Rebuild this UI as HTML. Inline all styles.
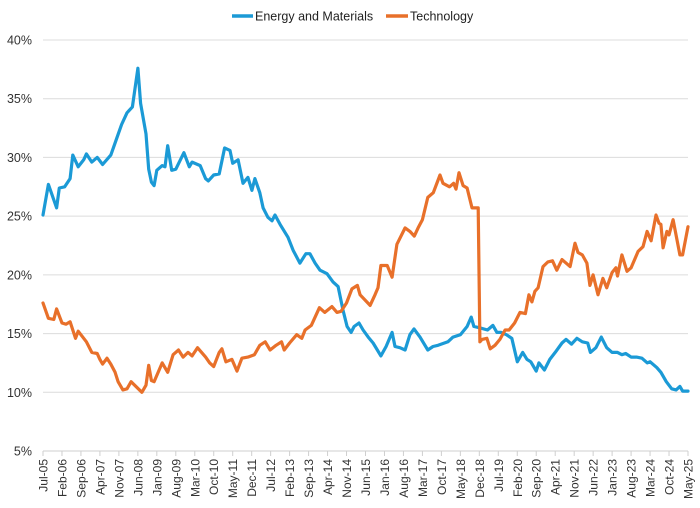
<!DOCTYPE html>
<html><head><meta charset="utf-8"><style>
html,body{margin:0;padding:0;background:#fff;}
svg{display:block;font-family:"Liberation Sans",sans-serif;}
</style></head><body>
<svg id="chart" width="700" height="508" viewBox="0 0 700 508" xmlns="http://www.w3.org/2000/svg">
<g>
  <line x1="232" y1="16" x2="253" y2="16" stroke="#1b9ad6" stroke-width="3.5"/>
  <text x="255" y="20.5" font-size="12.5" fill="#222">Energy and Materials</text>
  <line x1="386" y1="16" x2="408" y2="16" stroke="#e8702a" stroke-width="3.5"/>
  <text x="410" y="20.5" font-size="12.5" fill="#222">Technology</text>
</g>
<g id="grid"></g>
<g id="yaxis"></g>
<g id="xaxis"></g>
<g id="series"></g>
</svg>
<script>
const yTicks = [5,10,15,20,25,30,35,40];
const xTickLabels = ["Jul-05","Feb-06","Sep-06","Apr-07","Nov-07","Jun-08","Jan-09","Aug-09","Mar-10","Oct-10","May-11","Dec-11","Jul-12","Feb-13","Sep-13","Apr-14","Nov-14","Jun-15","Jan-16","Aug-16","Mar-17","Oct-17","May-18","Dec-18","Jul-19","Feb-20","Sep-20","Apr-21","Nov-21","Jun-22","Jan-23","Aug-23","Mar-24","Oct-24","May-25"];
const energyMonths = [0,2,5,6,8,10,11,13,15,16,18,20,22,25,27,29,31,33,35,36,38,39,40,41,42,44,45,46,47.5,49,52,54,55,58,60,61,63,65,67,69,70,72,73.8,75.6,77.1,78.2,80,81.2,83,84.5,85.6,87.5,90.4,92.3,94.8,97,98.5,100.4,102.2,104.8,107,108.9,110.7,112.2,113.7,114.8,116.6,118.1,120,121.8,124.7,126.6,128.8,129.9,131.7,133.6,135.4,136.9,139.1,142,143.9,145.8,149.4,151.3,154,156.5,158,159,161,164,166,167.5,169,171,173,175,177,178.6,180,182,183,185,187,189,191.5,193,195,197,199,201,202,204,206,208,210,212,213.6,215,217,219,221,223,224,226.5,228,230,232,233.6,235,236,238];
const energyValues = [25.1,27.7,25.7,27.4,27.5,28.2,30.2,29.2,29.8,30.3,29.6,30.0,29.4,30.2,31.5,32.8,33.8,34.3,37.6,34.6,32.0,29.0,27.9,27.6,28.9,29.3,29.2,31.0,28.9,29.0,30.4,29.2,29.6,29.3,28.2,28.0,28.5,28.6,30.8,30.6,29.5,29.8,27.8,28.3,27.2,28.2,27.0,25.7,24.9,24.6,25.1,24.3,23.2,22.1,21.0,21.8,21.8,21.0,20.4,20.1,19.4,19.0,17.0,15.6,15.1,15.6,15.9,15.3,14.7,14.2,13.1,13.9,15.1,13.9,13.8,13.6,14.9,15.4,14.7,13.6,13.9,14.0,14.3,14.7,14.9,15.6,16.4,15.6,15.5,15.3,15.7,15.1,15.1,14.9,14.6,12.6,13.4,12.8,12.6,11.8,12.5,11.9,12.8,13.4,14.2,14.5,14.1,14.6,14.3,14.2,13.4,13.8,14.7,13.8,13.4,13.4,13.2,13.3,13.0,13.0,12.9,12.5,12.6,12.1,11.7,10.9,10.3,10.2,10.5,10.1,10.1];
const techMonths = [0,2,4,5,7,8.5,10,12,13,16,18,20,21,22,23.6,25,26.6,27.7,29.5,31,32.5,36.5,38,39,40,41,44,46,48,50,51.7,53.5,55,57,60,61.5,63,65,66,67.5,69.7,71.6,73.4,75.6,78,80,82,83.8,86,88,89,91,93.6,95.5,96.7,99,102,104,106.6,108.5,110,112,114,116,117,120.7,122.5,123.6,124.7,127,128.8,130.6,133.6,135.4,137,138.4,140,142,144,146.5,147.6,150,151.5,152.4,153.5,155,156.5,158.3,160.6,161.2,162,163.8,165,166.8,168.6,170.5,172,174,176,178,179.3,180.4,181.5,182.7,184.5,186.3,188,189.6,191.5,194.5,196.3,197.4,199,200.7,201.8,203,204.8,206.6,208,210,211.4,212,213.6,215.5,217,219.6,221.4,222.9,224.4,226.2,227.3,228,228.8,230.2,231,232.5,235,236,238];
const techValues = [17.6,16.3,16.2,17.1,15.9,15.8,16.0,14.6,15.2,14.3,13.4,13.3,12.8,12.4,12.9,12.4,11.7,10.9,10.2,10.3,10.9,10.0,10.6,12.3,11.0,10.9,12.5,11.7,13.2,13.6,13.0,13.4,13.1,13.8,13.0,12.5,12.2,13.4,13.7,12.6,12.8,11.8,12.9,13.0,13.2,14.0,14.3,13.6,14.0,14.3,13.6,14.2,14.9,14.6,15.3,15.7,17.2,16.8,17.3,16.8,16.9,17.6,18.8,19.1,18.3,17.4,18.3,18.9,20.8,20.8,19.8,22.6,24.0,23.7,23.3,24.0,24.7,26.6,27.0,28.5,27.8,27.5,27.8,27.3,28.7,27.6,27.4,25.7,25.7,14.3,14.5,14.6,13.7,14.0,14.5,15.3,15.3,15.9,16.8,16.7,18.3,17.7,18.6,18.9,20.7,21.1,21.2,20.4,21.3,20.7,22.7,21.9,21.7,21.0,19.1,20.0,18.3,19.7,18.9,20.2,20.6,19.9,21.7,20.3,20.6,22.0,22.4,23.7,22.9,25.1,24.4,24.3,22.3,23.7,23.4,24.7,21.7,21.7,24.1];

const NS = "http://www.w3.org/2000/svg";
const X0 = 43, X1 = 688, Y40 = 40, Y5 = 451;
const maxMonth = (xTickLabels.length - 1) * 7;
function xScale(m){ return X0 + m * (X1 - X0) / maxMonth; }
function yScale(v){ return Y40 + (40 - v) * (Y5 - Y40) / 35; }
function mk(tag, attrs, parent){ const e = document.createElementNS(NS, tag); for (const k in attrs) e.setAttribute(k, attrs[k]); parent.appendChild(e); return e; }

const grid = document.getElementById('grid');
const yaxis = document.getElementById('yaxis');
yTicks.forEach(t => {
  const y = yScale(t);
  if (t !== 5) {
    const gl = mk('line', {x1: X0, x2: X1, y1: y, y2: y, stroke: '#dcdcdc', 'stroke-width': 1}, grid);
    
    
  }
  const lb = mk('text', {x: 32, y: y + 4.5, 'text-anchor': 'end', 'font-size': 12.5, fill: '#333'}, yaxis);
  lb.textContent = t + '%';
  
  
});

const xaxis = document.getElementById('xaxis');
const axl = mk('line', {x1: X0, x2: X1, y1: Y5, y2: Y5, stroke: '#cfcfcf', 'stroke-width': 1}, xaxis);


xTickLabels.forEach((lab, i) => {
  const x = xScale(i * 7);
  const tk = mk('line', {x1: x, x2: x, y1: Y5, y2: Y5 + 5, stroke: '#cfcfcf', 'stroke-width': 1}, xaxis);
  
  
  const t = mk('text', {x: 0, y: 0, 'text-anchor': 'end', 'font-size': 12, fill: '#333', transform: 'translate(' + (x + 4.5) + ',' + (Y5 + 8) + ') rotate(-90)'}, xaxis);
  t.textContent = lab;
  
  
});

const series = document.getElementById('series');
function drawLine(months, vals, color, name){
  const d = months.map((m, i) => (i ? 'L' : 'M') + xScale(m).toFixed(1) + ',' + yScale(vals[i]).toFixed(1)).join(' ');
  const p = mk('path', {d: d, fill: 'none', stroke: color, 'stroke-width': 3.2, 'stroke-linejoin': 'round', 'stroke-linecap': 'round'}, series);
  
  
}
drawLine(energyMonths, energyValues, '#1b9ad6', 'energy-materials-line');
drawLine(techMonths, techValues, '#e8702a', 'technology-line');
</script>
</body></html>
